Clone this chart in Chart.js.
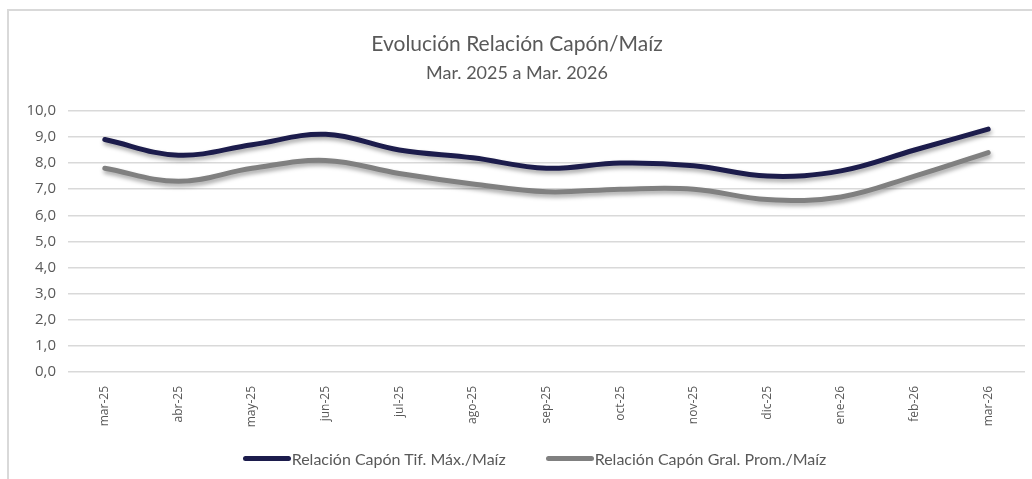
<!DOCTYPE html>
<html>
<head>
<meta charset="utf-8">
<script src="https://cdn.jsdelivr.net/npm/chart.js@4.4.1/dist/chart.umd.min.js"></script>
<style>
  html, body { margin: 0; padding: 0; background: #fff; overflow: hidden; }
  #frame {
    position: absolute; left: 7px; top: 9px; width: 1100px; height: 600px;
    border-left: 2px solid #d9d9d9; border-top: 2px solid #d9d9d9;
  }
  #wrap { position: absolute; left: 9px; top: 11px; width: 1023px; height: 440px; }
  #legend {
    position: absolute; left: 37px; top: 447px; width: 995px; height: 22px;
    display: flex; justify-content: center; align-items: center; gap: 40px;
    font-family: Lato, sans-serif; font-size: 16px; color: #595959;
  }
  #legend .item { display: flex; align-items: center; white-space: nowrap; }
  #legend .swatch { width: 48px; height: 5px; border-radius: 3px; margin-right: 1px; }
</style>
</head>
<body>
<div id="frame"></div>
<div id="wrap"><canvas id="relacion-chart"></canvas></div>
<div id="legend"></div>
<script>
const months = ['mar-25', 'abr-25', 'may-25', 'jun-25', 'jul-25', 'ago-25', 'sep-25',
  'oct-25', 'nov-25', 'dic-25', 'ene-26', 'feb-26', 'mar-26'];
const tifMax = [8.9, 8.3, 8.7, 9.1, 8.5, 8.2, 7.8, 8.0, 7.9, 7.5, 7.7, 8.5, 9.3];
const gralProm = [7.8, 7.3, 7.8, 8.1, 7.6, 7.2, 6.9, 7.0, 7.0, 6.6, 6.7, 7.5, 8.4];
const yTicks = [0, 1, 2, 3, 4, 5, 6, 7, 8, 9, 10];

const textGray = '#595959';

// soft drop shadow under the lines, like the spreadsheet original
const lineShadow = {
  id: 'lineShadow',
  beforeDatasetsDraw(chart) {
    const ctx = chart.ctx;
    ctx.save();
    ctx.shadowColor = 'rgba(0, 0, 0, 0.35)';
    ctx.shadowBlur = 4;
    ctx.shadowOffsetX = 1;
    ctx.shadowOffsetY = 3;
  },
  afterDatasetsDraw(chart) {
    chart.ctx.restore();
  }
};

const ctx = document.getElementById('relacion-chart').getContext('2d');
const chart = new Chart(ctx, {
  type: 'line',
  data: {
    labels: months,
    datasets: [{
      label: 'Relación Capón Tif. Máx./Maíz',
      data: tifMax,
      borderColor: '#1c1c4c',
      backgroundColor: '#1c1c4c',
      borderWidth: 5,
      tension: 0.38,
      pointRadius: 0,
      borderCapStyle: 'round'
    }, {
      label: 'Relación Capón Gral. Prom./Maíz',
      data: gralProm,
      borderColor: '#808080',
      backgroundColor: '#808080',
      borderWidth: 5,
      tension: 0.38,
      pointRadius: 0,
      borderCapStyle: 'round'
    }]
  },
  options: {
    responsive: true,
    maintainAspectRatio: false,
    animation: false,
    layout: { padding: { left: 0, right: 7, top: 0, bottom: 0 } },
    plugins: {
      title: {
        display: true,
        text: 'Evolución Relación Capón/Maíz',
        color: textGray,
        font: { family: 'Lato', size: 21, weight: 'normal' },
        padding: { top: 21, bottom: 5 }
      },
      subtitle: {
        display: true,
        text: 'Mar. 2025 a Mar. 2026',
        color: textGray,
        font: { family: 'Lato', size: 18, weight: 'normal' },
        padding: { top: 0, bottom: 27 }
      },
      legend: { display: false },
      tooltip: { enabled: false }
    },
    scales: {
      x: {
        offset: true,
        grid: { display: false },
        border: { display: false },
        ticks: {
          color: textGray,
          font: { family: 'Open Sans', size: 12 },
          minRotation: 90,
          maxRotation: 90,
          padding: 6
        },
        afterFit(scale) { scale.height = 79; }
      },
      y: {
        min: 0,
        max: 10,
        afterBuildTicks(scale) { scale.ticks = yTicks.map(v => ({ value: v })); },
        grid: { color: '#d9d9d9', lineWidth: 1.5, drawTicks: false },
        border: { display: false },
        ticks: {
          color: textGray,
          font: { family: 'Open Sans', size: 15 },
          padding: 12,
          callback: v => v.toFixed(1).replace('.', ',')
        },
        afterFit(scale) { scale.width = 59; }
      }
    }
  },
  plugins: [lineShadow]
});

// legend built from the chart's own datasets
const legendEl = document.getElementById('legend');
chart.data.datasets.forEach(ds => {
  const item = document.createElement('div');
  item.className = 'item';
  const sw = document.createElement('span');
  sw.className = 'swatch';
  sw.style.background = ds.borderColor;
  const txt = document.createElement('span');
  txt.textContent = ds.label;
  item.appendChild(sw);
  item.appendChild(txt);
  legendEl.appendChild(item);
});
</script>
</body>
</html>
